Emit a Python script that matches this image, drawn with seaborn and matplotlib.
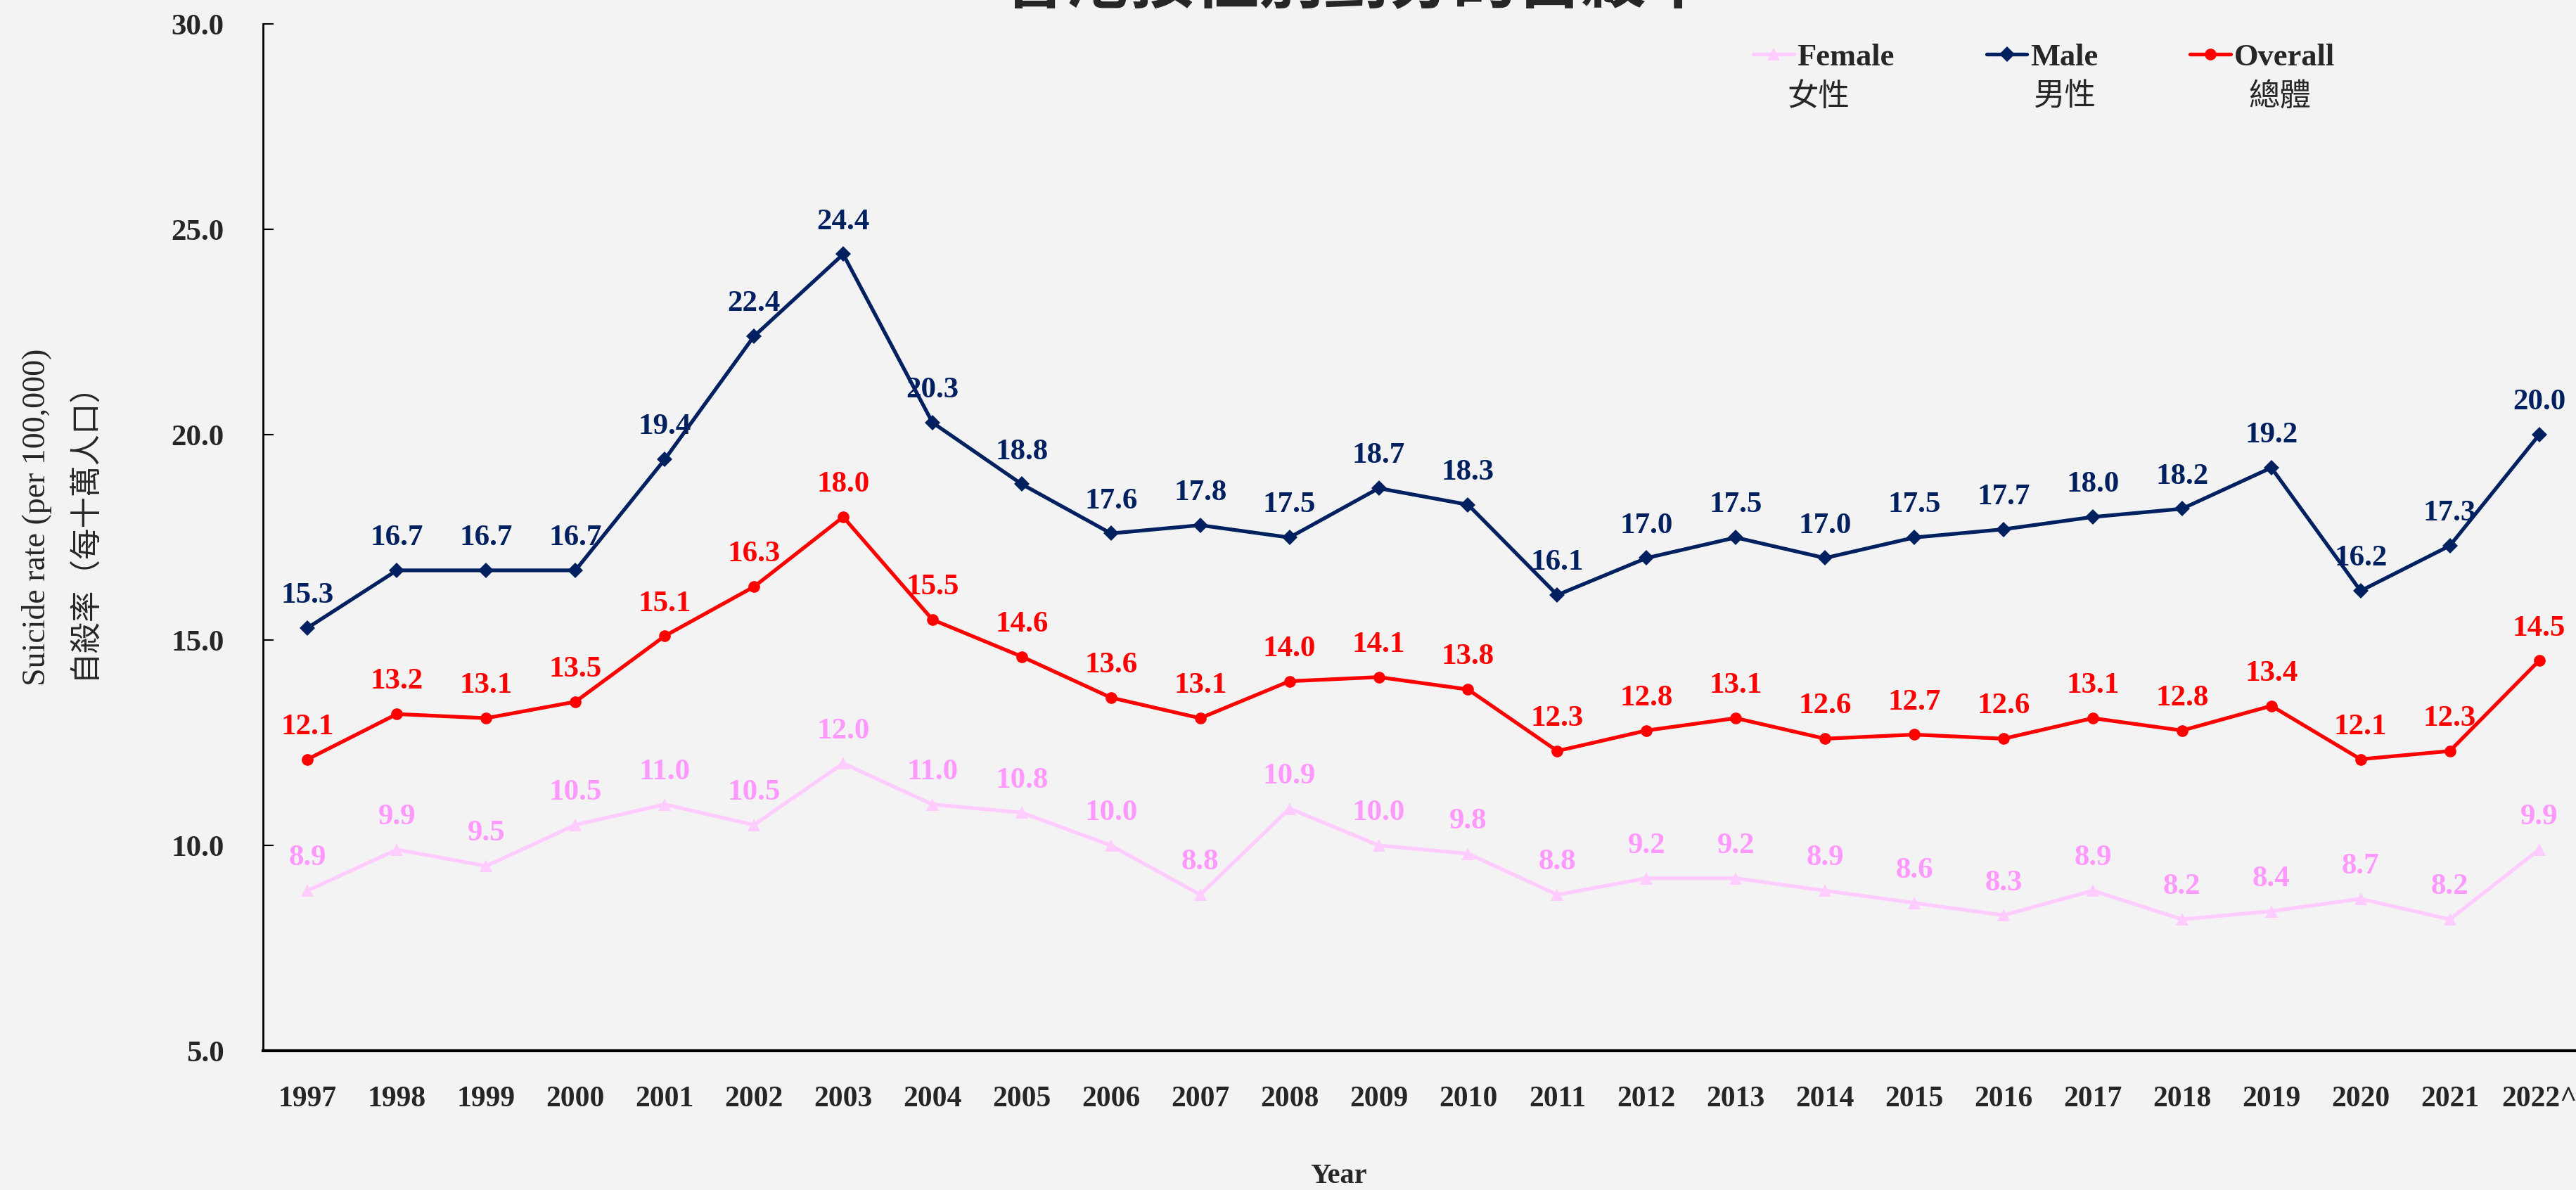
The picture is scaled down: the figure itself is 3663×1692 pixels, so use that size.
import numpy as np
import pandas as pd
import matplotlib
matplotlib.use("Agg")
import matplotlib.pyplot as plt
import seaborn as sns

# Suicide rate per 100,000, Hong Kong, by sex
years = ["1997", "1998", "1999", "2000", "2001", "2002", "2003", "2004", "2005",
         "2006", "2007", "2008", "2009", "2010", "2011", "2012", "2013", "2014",
         "2015", "2016", "2017", "2018", "2019", "2020", "2021", "2022^"]
male = [15.3, 16.7, 16.7, 16.7, 19.4, 22.4, 24.4, 20.3, 18.8, 17.6, 17.8, 17.5, 18.7,
        18.3, 16.1, 17.0, 17.5, 17.0, 17.5, 17.7, 18.0, 18.2, 19.2, 16.2, 17.3, 20.0]
overall = [12.1, 13.2, 13.1, 13.5, 15.1, 16.3, 18.0, 15.5, 14.6, 13.6, 13.1, 14.0, 14.1,
           13.8, 12.3, 12.8, 13.1, 12.6, 12.7, 12.6, 13.1, 12.8, 13.4, 12.1, 12.3, 14.5]
female = [8.9, 9.9, 9.5, 10.5, 11.0, 10.5, 12.0, 11.0, 10.8, 10.0, 8.8, 10.9, 10.0,
          9.8, 8.8, 9.2, 9.2, 8.9, 8.6, 8.3, 8.9, 8.2, 8.4, 8.7, 8.2, 9.9]
y_ticks = [5, 10, 15, 20, 25, 30]

BG = "#F3F3F3"
series = [
    # name, values, line colour, label colour, marker, marker size, chinese
    ("Female", female, "#FFCCFF", "#FF99FF", "^", 13, "女性"),
    ("Male", male, "#002060", "#002060", "D", 11, "男性"),
    ("Overall", overall, "#FF0000", "#FF0000", "o", 12, "總體"),
]

sns.set_theme(style="white")
plt.rcParams["font.family"] = ["Liberation Serif", "Noto Sans CJK TC"]

W, H = 3663, 1692
fig = plt.figure(figsize=(W / 100, H / 100), dpi=100, facecolor=BG)
ax = fig.add_axes([374 / W, 1 - 1494 / H, 3300 / W, (1494 - 34.5) / H])
ax.set_facecolor(BG)

for name, vals, color, lab_color, marker, ms, _ in series:
    df = pd.DataFrame({"Year": years, "Rate": vals})
    sns.lineplot(data=df, x="Year", y="Rate", ax=ax, color=color, linewidth=3.8,
                 marker=marker, markersize=ms, markeredgewidth=0, label=name, sort=False)
    for i, v in enumerate(vals):
        ax.annotate(f"{v:.1f}", (i, v), xytext=(0, 33), textcoords="offset points",
                    ha="center", va="center", fontsize=31, fontweight="bold",
                    color=lab_color)

ax.set_xlim(-0.5, len(years) - 0.5)
ax.set_ylim(5, 30)
ax.set_yticks(y_ticks)
ax.set_yticklabels([f"{t:.1f}" for t in y_ticks], fontsize=31, fontweight="bold")
ax.set_xticks(range(len(years)))
ax.set_xticklabels(years, fontsize=30, fontweight="bold")
ax.set_xticks(np.arange(0.5, len(years) - 1, 1), minor=True)
ax.tick_params(axis="x", which="major", length=0, pad=36)
ax.tick_params(axis="x", which="minor", direction="in", length=10, width=1.5, color="black")
ax.tick_params(axis="y", direction="in", length=11, width=1.5, color="black", pad=40,
               left=True)
ax.set_xlabel("")
ax.set_ylabel("")
ax.grid(False)
for side in ["top", "right"]:
    ax.spines[side].set_visible(False)
ax.spines["left"].set_color("black")
ax.spines["left"].set_linewidth(2)
ax.spines["bottom"].set_color("black")
ax.spines["bottom"].set_linewidth(3)

# axis titles
fig.text(52 / W, 1 - 735 / H, "Suicide rate (per 100,000)", rotation=90, ha="center",
         va="center", fontsize=33)
fig.text(117 / W, 1 - 742 / H, "自殺率（每十萬人口）", rotation=90, ha="center",
         va="center", fontsize=32, family=["Noto Sans CJK TC"])
fig.text(1903 / W, 1 - 1672 / H, "Year", ha="center", va="center", fontsize=29,
         fontweight="bold")

# title (cropped at the top edge in the reference)
fig.text(1928 / W, 1 - 4 / H, "香港按性別劃分的自殺率", ha="center", va="baseline",
         fontsize=66, fontweight="bold", family=["Noto Sans CJK TC"])

# legend
leg = ax.legend(loc="center left", bbox_to_anchor=(2493 / W, 1 - 82 / H),
                bbox_transform=fig.transFigure, ncol=3, frameon=False,
                handlelength=1.3, handletextpad=0.1, columnspacing=2.95,
                borderpad=0, borderaxespad=0, prop={"weight": "bold", "size": 32})
for x, (_, _, _, _, _, _, zh) in zip([2541, 2891, 3197], series):
    fig.text(x / W, 1 - 137 / H, zh, ha="left", va="center", fontsize=32,
             family=["Noto Sans CJK TC"])

fig.savefig("out.png", dpi=100, facecolor=BG)
